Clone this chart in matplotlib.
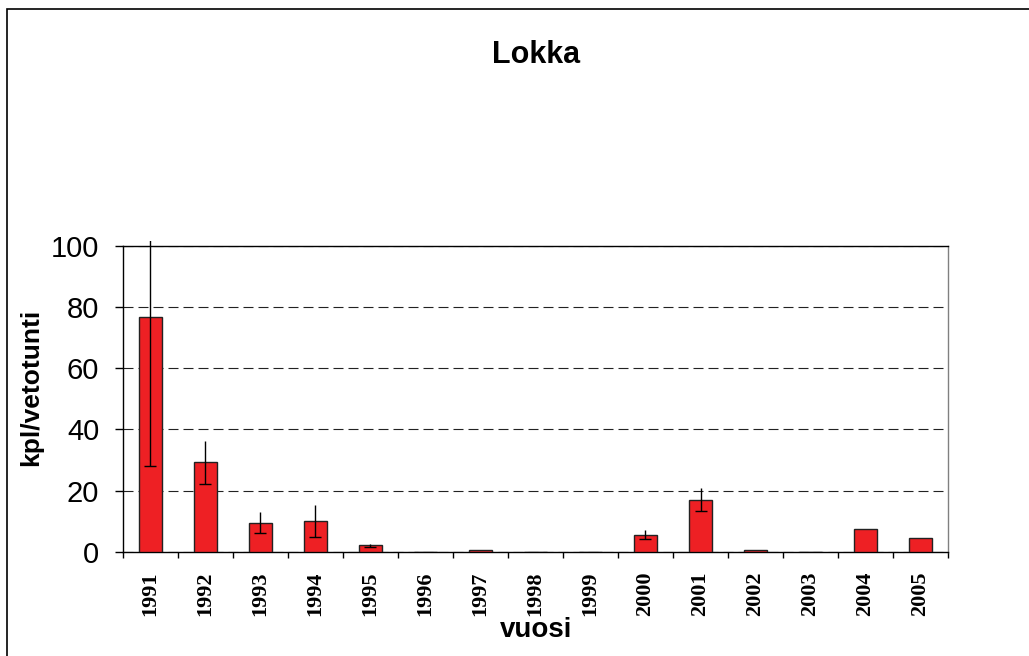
import matplotlib
matplotlib.use('Agg')
from matplotlib import pyplot as plt
from matplotlib.patches import Rectangle
from matplotlib.transforms import Bbox, TransformedBbox
import numpy as np

plt.rcParams['font.family'] = ['Liberation Sans', 'DejaVu Sans']

vuodet = ['1991', '1992', '1993', '1994', '1995', '1996', '1997', '1998',
          '1999', '2000', '2001', '2002', '2003', '2004', '2005']
saalis = [76.9, 29.2, 9.5, 10.0, 2.1, 0.0, 0.4, 0.0, 0.0, 5.5, 17.0, 0.4, 0.0, 7.3, 4.4]
virhe = [49.0, 7.1, 3.5, 5.3, 0.5, 0.0, 0.0, 0.0, 0.0, 1.5, 3.7, 0.0, 0.0, 0.0, 0.0]

x = np.arange(len(vuodet))
saalis = np.array(saalis)
virhe = np.array(virhe)

fig = plt.figure(figsize=(10.29, 6.56), dpi=100)
ax = fig.add_axes([0.1195, 0.159, 0.8018, 0.466])

ax.bar(x, saalis, width=0.41, color='#ee2024', edgecolor='#222222', linewidth=1.0, zorder=3)

# virhepalkit, vain alapaassa poikkiviiva
on = virhe > 0
eb = ax.errorbar(x[on], saalis[on], yerr=virhe[on], fmt='none', ecolor='black',
                 elinewidth=1.0, capsize=0, zorder=4)
clip = TransformedBbox(Bbox([[0, 0], [1, 1.016]]), ax.transAxes)
for c in eb[2]:
    c.set_clip_box(clip)
ax.plot(x[on], saalis[on] - virhe[on], '_', color='black', markersize=9,
        markeredgewidth=1.0, zorder=4)

ax.set_xlim(-0.5, len(vuodet) - 0.5)
ax.set_ylim(0, 100)
ax.set_yticks([0, 20, 40, 60, 80, 100])
ax.yaxis.grid(True, linestyle=(0, (9, 4.5)), color='#222222', linewidth=0.8, zorder=1)
ax.set_axisbelow(True)

ax.set_xticks(x)
ax.set_xticklabels(vuodet, rotation=90, fontfamily='Liberation Serif',
                   fontweight='bold', fontsize=16)
ax.set_xticks(np.arange(len(vuodet) + 1) - 0.5, minor=True)
ax.tick_params(axis='x', which='major', length=0, pad=14)
ax.tick_params(axis='x', which='minor', length=4.5, width=1.0, direction='out')
ax.tick_params(axis='y', length=6, width=1.0, direction='out', labelsize=21, pad=11)

for s in ['left', 'bottom', 'top']:
    ax.spines[s].set_color('black')
    ax.spines[s].set_linewidth(1.0)
ax.spines['right'].set_color('#808080')
ax.spines['right'].set_linewidth(1.0)

fig.text(536 / 1029, 1 - 55 / 656, 'Lokka', ha='center', va='center',
         fontsize=22, fontweight='bold')
fig.text(31 / 1029, 1 - 387 / 656, 'kpl/vetotunti', ha='center', va='center',
         rotation=90, fontsize=19, fontweight='bold')
fig.text(536 / 1029, 1 - 630 / 656, 'vuosi', ha='center', va='center',
         fontsize=20, fontweight='bold')

fig.patches.append(Rectangle((7 / 1029, -0.1), 1.2, 1.1 - 9 / 656,
                             transform=fig.transFigure, fill=False,
                             edgecolor='black', linewidth=1.2))

fig.savefig('out.png', dpi=100)
